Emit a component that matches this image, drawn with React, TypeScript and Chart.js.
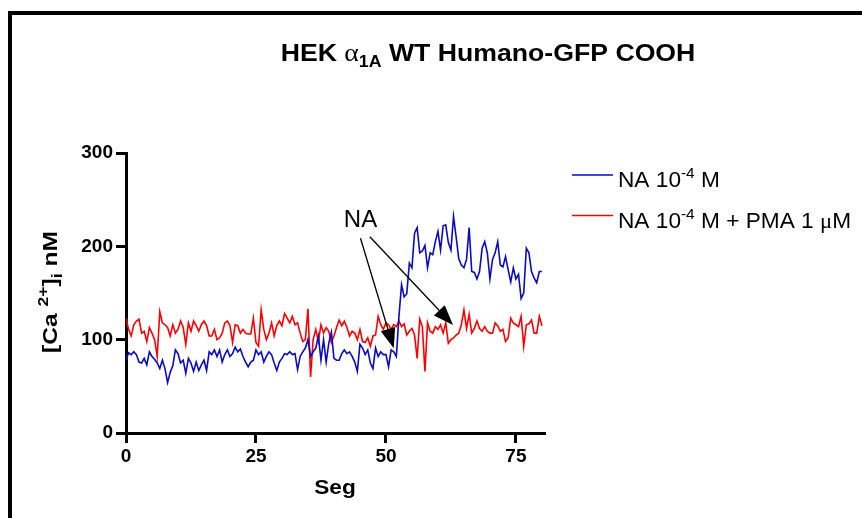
import React, { useEffect, useRef } from 'react';
import { Chart, registerables } from 'chart.js';

Chart.register(...registerables);

// ---- data (time in seconds, sampled every TIME_STEP s) ----
const TIME_STEP = 0.5;

// [Ca2+]i nM, NA 10^-4 M
const NA_ONLY: number[] = [
  78, 86, 84, 87, 84, 76, 75, 80, 73, 87, 82, 79, 75, 69, 78, 69, 54, 65, 72, 89,
  85, 75, 78, 64, 80, 75, 66, 76, 67, 73, 78, 67, 87, 84, 89, 82, 89, 76, 84, 89,
  82, 85, 92, 87, 90, 82, 76, 71, 76, 78, 89, 84, 87, 76, 82, 87, 84, 75, 67, 76,
  80, 85, 84, 87, 84, 85, 68, 82, 87, 91, 100, 82, 87, 91, 104, 78, 100, 76, 96, 108,
  80, 78, 78, 85, 89, 85, 87, 82, 76, 66, 95, 91, 84, 89, 75, 69, 91, 82, 87, 84,
  84, 71, 89, 87, 82, 125, 159, 146, 149, 182, 177, 214, 220, 193, 195, 201, 177, 193, 191, 205,
  216, 196, 222, 223, 204, 196, 232, 210, 187, 180, 177, 186, 220, 173, 172, 165, 173, 198, 205, 193,
  165, 186, 193, 205, 180, 178, 189, 175, 162, 177, 165, 170, 144, 150, 198, 193, 173, 166, 161, 173, 173,
];

// [Ca2+]i nM, NA 10^-4 M + PMA 1 uM
const NA_PMA: number[] = [
  123, 111, 104, 116, 120, 122, 107, 109, 98, 113, 107, 100, 82, 130, 118, 116, 113, 104, 116, 107,
  111, 120, 113, 95, 118, 109, 120, 115, 109, 116, 120, 115, 104, 104, 111, 100, 102, 107, 118, 120,
  115, 97, 116, 115, 107, 111, 107, 106, 106, 123, 97, 93, 132, 111, 100, 107, 118, 104, 115, 120,
  115, 128, 123, 118, 125, 116, 118, 107, 98, 100, 133, 60, 100, 111, 98, 116, 107, 113, 109, 97,
  104, 113, 121, 115, 120, 113, 104, 109, 107, 100, 111, 98, 97, 102, 93, 104, 105, 125, 116, 111,
  118, 116, 111, 116, 114, 120, 114, 117, 105, 109, 112, 105, 80, 122, 114, 66, 118, 109, 107, 114,
  111, 116, 107, 118, 96, 100, 102, 105, 107, 116, 132, 112, 127, 107, 112, 120, 112, 109, 114, 109,
  107, 107, 118, 115, 109, 111, 98, 102, 123, 118, 116, 114, 125, 93, 116, 117, 121, 107, 107, 125, 115,
];

const X_TICKS = [0, 25, 50, 75];
const Y_TICKS = [0, 100, 200, 300];
const X_MAX = 80.4;
const Y_MAX = 300;

// annotation "NA" with two arrows, in data units (s, nM)
const NA_LABEL = { text: 'NA', x: 45.1, y: 221 };
const ARROW_FROM_X = [45.1, 46.9];
const ARROW_FROM_Y = [208.6, 210.3];
const ARROW_TO_X = [51.5, 62.9];
const ARROW_TO_Y = [90.7, 115.7];

const BLUE = '#0a0ac8';
const RED = '#ff0000';
const SANS = '"Liberation Sans", Arial, Helvetica, sans-serif';
const SERIF = '"Liberation Serif", "Times New Roman", serif';

type Run = { t: string; f: string; dy?: number };

function runsWidth(ctx: CanvasRenderingContext2D, runs: Run[]) {
  let w = 0;
  for (const r of runs) {
    ctx.font = r.f;
    w += ctx.measureText(r.t).width;
  }
  return w;
}

function drawRuns(
  ctx: CanvasRenderingContext2D,
  runs: Run[],
  x: number,
  y: number,
  align: 'left' | 'center',
  sx = 1
) {
  const w = runsWidth(ctx, runs) * sx;
  const x0 = align === 'center' ? x - w / 2 : x;
  ctx.save();
  ctx.translate(x0, y);
  ctx.scale(sx, 1);
  ctx.textAlign = 'left';
  ctx.textBaseline = 'alphabetic';
  let cx = 0;
  for (const r of runs) {
    ctx.font = r.f;
    ctx.fillText(r.t, cx, r.dy || 0);
    cx += ctx.measureText(r.t).width;
  }
  ctx.restore();
}

function drawArrow(ctx: CanvasRenderingContext2D, x1: number, y1: number, x2: number, y2: number) {
  const ang = Math.atan2(y2 - y1, x2 - x1);
  const L = 20;
  const W = 7.5;
  const bx = x2 - L * Math.cos(ang);
  const by = y2 - L * Math.sin(ang);
  ctx.beginPath();
  ctx.moveTo(x1, y1);
  ctx.lineTo(bx, by);
  ctx.lineWidth = 1.3;
  ctx.stroke();
  ctx.beginPath();
  ctx.moveTo(x2, y2);
  ctx.lineTo(bx - W * Math.sin(ang), by + W * Math.cos(ang));
  ctx.lineTo(bx + W * Math.sin(ang), by - W * Math.cos(ang));
  ctx.closePath();
  ctx.fill();
}

const overlayPlugin = {
  id: 'overlay',
  afterDraw(chart: any) {
    const ctx: CanvasRenderingContext2D = chart.ctx;
    const xs = chart.scales.x;
    const ys = chart.scales.y;
    const area = chart.chartArea;
    ctx.save();
    ctx.fillStyle = '#000';
    ctx.strokeStyle = '#000';

    // frame (top and left edges)
    ctx.fillRect(8, 11, 4, 518 - 11);
    ctx.fillRect(8, 11, 862 - 8, 4);

    // title
    drawRuns(
      ctx,
      [
        { t: 'HEK ', f: `bold 24px ${SANS}` },
        { t: '\u03b1', f: `25px ${SERIF}` },
        { t: '1A', f: `bold 16px ${SANS}`, dy: 6 },
        { t: ' WT Humano-GFP COOH', f: `bold 24px ${SANS}` },
      ],
      488,
      61,
      'center',
      1.11
    );

    // x title
    drawRuns(ctx, [{ t: 'Seg', f: `bold 21px ${SANS}` }], (area.left + area.right) / 2, 494, 'center', 1.08);

    // y title (rotated)
    ctx.save();
    ctx.translate(57, 292);
    ctx.rotate(-Math.PI / 2);
    drawRuns(
      ctx,
      [
        { t: '[Ca ', f: `bold 21px ${SANS}` },
        { t: '2+', f: `bold 15px ${SANS}`, dy: -9 },
        { t: ']', f: `bold 21px ${SANS}` },
        { t: 'i', f: `bold 15px ${SANS}`, dy: 5 },
        { t: ' nM', f: `bold 21px ${SANS}` },
      ],
      0,
      0,
      'center',
      1.17
    );
    ctx.restore();

    // legend
    const legendRows: { color: string; runs: Run[] }[] = [
      {
        color: BLUE,
        runs: [
          { t: 'NA 10', f: `22px ${SANS}` },
          { t: '-4', f: `15px ${SANS}`, dy: -9 },
          { t: ' M', f: `22px ${SANS}` },
        ],
      },
      {
        color: RED,
        runs: [
          { t: 'NA 10', f: `22px ${SANS}` },
          { t: '-4', f: `15px ${SANS}`, dy: -9 },
          { t: ' M + PMA 1 ', f: `22px ${SANS}` },
          { t: '\u03bc', f: `22px ${SERIF}` },
          { t: 'M', f: `22px ${SANS}` },
        ],
      },
    ];
    legendRows.forEach((row, i) => {
      const ly = 175 + i * 40.5;
      ctx.strokeStyle = row.color;
      ctx.lineWidth = 1.5;
      ctx.beginPath();
      ctx.moveTo(572, ly);
      ctx.lineTo(613, ly);
      ctx.stroke();
      ctx.fillStyle = '#000';
      drawRuns(ctx, row.runs, 618, ly + 12, 'left', 1.03);
    });

    // NA annotation
    ctx.strokeStyle = '#000';
    ctx.fillStyle = '#000';
    ctx.font = `24px ${SANS}`;
    ctx.textAlign = 'center';
    ctx.textBaseline = 'alphabetic';
    ctx.fillText(NA_LABEL.text, xs.getPixelForValue(NA_LABEL.x), ys.getPixelForValue(NA_LABEL.y));
    for (let i = 0; i < ARROW_FROM_X.length; i++) {
      drawArrow(
        ctx,
        xs.getPixelForValue(ARROW_FROM_X[i]),
        ys.getPixelForValue(ARROW_FROM_Y[i]),
        xs.getPixelForValue(ARROW_TO_X[i]),
        ys.getPixelForValue(ARROW_TO_Y[i])
      );
    }
    ctx.restore();
  },
};

export default function App() {
  const ref = useRef<HTMLCanvasElement>(null);

  useEffect(() => {
    const toPoints = (arr: number[]) => arr.map((v, i) => ({ x: i * TIME_STEP, y: v }));
    const tickFont = { family: SANS, size: 19, weight: 'bold' as const };
    const chart = new Chart(ref.current as HTMLCanvasElement, {
      type: 'line',
      data: {
        datasets: [
          {
            label: 'NA 10-4 M',
            data: toPoints(NA_ONLY),
            borderColor: BLUE,
            borderWidth: 1.6,
            pointRadius: 0,
            tension: 0,
            fill: false,
          },
          {
            label: 'NA 10-4 M + PMA 1 µM',
            data: toPoints(NA_PMA),
            borderColor: RED,
            borderWidth: 1.6,
            pointRadius: 0,
            tension: 0,
            fill: false,
          },
        ],
      },
      options: {
        responsive: false,
        animation: false,
        devicePixelRatio: 1,
        layout: { padding: { left: 66, right: 318, top: 153, bottom: 0 } },
        plugins: { legend: { display: false }, tooltip: { enabled: false }, title: { display: false } },
        scales: {
          x: {
            type: 'linear',
            min: 0,
            max: X_MAX,
            afterBuildTicks: (s: any) => {
              s.ticks = X_TICKS.map((v) => ({ value: v }));
            },
            afterFit: (s: any) => {
              s.height = 85;
            },
            ticks: { font: tickFont, color: '#000', padding: 2, maxRotation: 0, autoSkip: false },
            grid: {
              display: true,
              drawOnChartArea: false,
              drawTicks: true,
              tickLength: 10,
              color: '#000',
              lineWidth: 3,
            },
            border: { display: true, color: '#000', width: 3 },
          },
          y: {
            type: 'linear',
            min: 0,
            max: Y_MAX,
            afterBuildTicks: (s: any) => {
              s.ticks = Y_TICKS.map((v) => ({ value: v }));
            },
            afterFit: (s: any) => {
              s.width = 60;
            },
            ticks: { font: tickFont, color: '#000', padding: 3, autoSkip: false },
            grid: {
              display: true,
              drawOnChartArea: false,
              drawTicks: true,
              tickLength: 10,
              color: '#000',
              lineWidth: 3,
            },
            border: { display: true, color: '#000', width: 3 },
          },
        },
      },
      plugins: [overlayPlugin],
    } as any);
    return () => chart.destroy();
  }, []);

  return (
    <div style={{ position: 'fixed', left: 0, top: 0, width: 862, height: 518, background: '#fff' }}>
      <canvas ref={ref} width={862} height={518} style={{ display: 'block', width: 862, height: 518 }} />
    </div>
  );
}
